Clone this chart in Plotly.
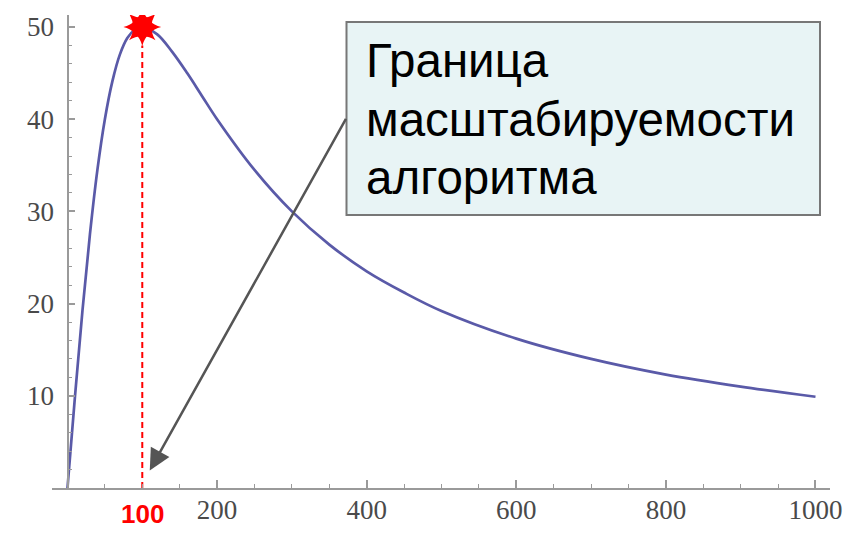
import plotly.graph_objects as go

# Curve values
x_vals = [0, 10, 20, 30, 40, 50, 60, 70, 80, 90, 100, 120, 140, 160, 180, 200,
          250, 300, 350, 400, 450, 500, 600, 700, 800, 900, 1000]
y_vals = [0, 9.9, 19.2, 27.5, 34.5, 40.0, 44.1, 47.0, 48.8, 49.7, 50.0, 49.2, 47.3,
          45.0, 42.5, 40.0, 34.5, 30.0, 26.4, 23.5, 21.2, 19.2, 16.2, 14.0, 12.3, 11.0, 9.9]

peak_x = 100
peak_y = 50
x_ticks = [200, 400, 600, 800, 1000]
y_ticks = [10, 20, 30, 40, 50]
box_lines = ["Граница", "масштабируемости", "алгоритма"]

W, H = 855, 533
# plot area in screen pixels: x 52..830, y 15..488
ml, mt = 52, 15
mr, mb = W - 830, H - 488
pw, ph = W - ml - mr, H - mt - mb

fig = go.Figure()

# red dashed line at the peak
fig.add_trace(go.Scatter(x=[peak_x, peak_x], y=[0, peak_y - 2], mode="lines",
                         line=dict(color="#ff0000", width=2, dash="6px,4px"),
                         hoverinfo="skip", showlegend=False))

fig.add_trace(go.Scatter(x=x_vals, y=y_vals, mode="lines", line_shape="spline",
                         line=dict(color="#5a5aa8", width=2.7), showlegend=False))

# 8-point star = two 4-point stars
for sym, sz in [("star-square", 24), ("star-diamond", 27)]:
    fig.add_trace(go.Scatter(x=[peak_x], y=[peak_y], mode="markers",
                             marker=dict(symbol=sym, size=sz, color="#ff0000",
                                         line=dict(width=0)),
                             showlegend=False, hoverinfo="skip"))

tick_font = dict(family="Liberation Serif", size=27, color="#4a4a4a")

fig.update_layout(
    width=W, height=H,
    margin=dict(l=ml, r=mr, t=mt, b=mb, autoexpand=False),
    plot_bgcolor="white", paper_bgcolor="white",
    xaxis=dict(range=[-20.7, 1019.4], showgrid=False, zeroline=False, automargin=False,
               showline=True, linecolor="#9a9a9a", linewidth=2,
               tickmode="array", tickvals=x_ticks, ticks="inside", ticklen=8,
               tickwidth=1.5, tickcolor="#9a9a9a", tickfont=tick_font,
               ticklabelstandoff=-3,
               minor=dict(tickmode="linear", tick0=0, dtick=50, ticks="inside",
                          ticklen=4, tickwidth=1.2, tickcolor="#9a9a9a")),
    yaxis=dict(range=[0, 51.3], showgrid=False, zeroline=False, automargin=False,
               anchor="free", position=(67.5 - ml) / pw,
               showline=True, linecolor="#9a9a9a", linewidth=2,
               tickmode="array", tickvals=y_ticks, ticks="inside", ticklen=6,
               tickwidth=1.5, tickcolor="#9a9a9a", tickfont=tick_font,
               ticklabelstandoff=7,
               minor=dict(tickmode="linear", tick0=0, dtick=2, ticks="inside",
                          ticklen=3, tickwidth=1.2, tickcolor="#9a9a9a")),
)

def px_x(p):
    return (p - ml) / pw

def px_y(p):
    return (H - mb - p) / ph

# text box
fig.add_shape(type="rect", xref="paper", yref="paper",
              x0=px_x(346.5), x1=px_x(820), y0=px_y(215), y1=px_y(22),
              fillcolor="#e8f4f5", line=dict(color="#777777", width=2), layer="above")

for i, line in enumerate(box_lines):
    fig.add_annotation(xref="paper", yref="paper", x=px_x(364), y=px_y(61 + 58 * i),
                       xanchor="left", yanchor="middle", align="left", showarrow=False,
                       text=line,
                       font=dict(family="Liberation Sans", size=47.5, color="#000000"))

# arrow from box to peak position
fig.add_annotation(x=peak_x + 10, y=1.9, xref="x", yref="y", text="",
                   showarrow=True, axref="pixel", ayref="pixel",
                   ax=197, ay=-353, arrowhead=2, arrowsize=1.7, arrowwidth=2.5,
                   arrowcolor="#555555")

# red label for the peak position
fig.add_annotation(x=peak_x, xref="x", y=0, yref="paper", yshift=-26,
                   yanchor="middle", showarrow=False, text="<b>100</b>",
                   font=dict(family="Liberation Sans", size=26, color="#ff0000"))

fig.write_html("out.html",
               config={"displayModeBar": False},
               post_script="document.body.style.margin='0';"
                           "document.body.style.overflow='hidden';")
